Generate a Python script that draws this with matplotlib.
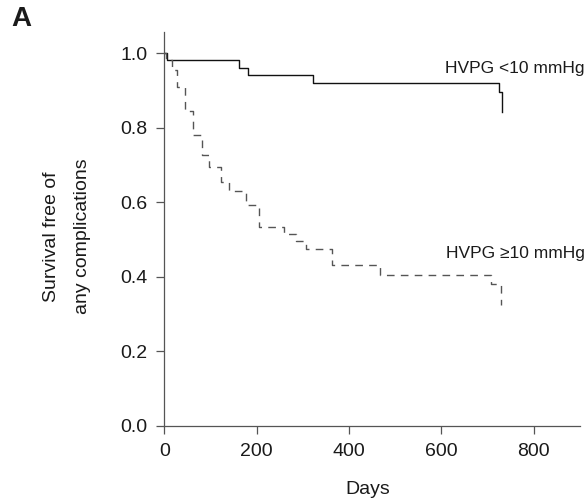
import matplotlib
matplotlib.use("Agg")
import matplotlib.pyplot as plt

# Kaplan-Meier steps (days, survival after step)
low_days = [0, 5, 161, 182, 321, 724, 731]
low_surv = [1.0, 0.982, 0.961, 0.942, 0.920, 0.897, 0.843]

high_days = [0, 4, 17, 27, 45, 62, 81, 96, 123, 140, 177, 205, 260, 284, 306,
             363, 466, 708, 729]
high_surv = [1.0, 0.982, 0.955, 0.909, 0.845, 0.780, 0.727, 0.694, 0.655, 0.630,
             0.593, 0.533, 0.514, 0.497, 0.476, 0.433, 0.404, 0.380, 0.325]

x_ticks = [0, 200, 400, 600, 800]
y_ticks = [0.0, 0.2, 0.4, 0.6, 0.8, 1.0]

plt.rcParams['font.family'] = ['Liberation Sans', 'DejaVu Sans']
plt.rcParams['lines.scale_dashes'] = False

axis_col = '#555555'
text_col = '#1a1a1a'

fig = plt.figure(figsize=(5.88, 5.0), dpi=100)
ax = fig.add_axes([0.2795, 0.148, 0.707, 0.789])

ax.step(low_days, low_surv, where='post', color='#111111', lw=1.0)
ax.step(high_days, high_surv, where='post', color='#555555', lw=1.0,
        dashes=(5.5, 4.5))

ax.set_xlim(0, 900)
ax.set_ylim(0, 1.058)
ax.set_xticks(x_ticks)
ax.set_yticks(y_ticks)
ax.set_yticklabels(["%.1f" % v for v in y_ticks])

for side in ['top', 'right']:
    ax.spines[side].set_visible(False)
for side in ['left', 'bottom']:
    ax.spines[side].set_color(axis_col)
    ax.spines[side].set_linewidth(0.9)
ax.tick_params(direction='out', length=6, width=0.9, color=axis_col,
               labelsize=14, labelcolor=text_col, pad=6)

ax.set_xlabel("Days", fontsize=14, color=text_col)
ax.xaxis.set_label_coords(0.49, -0.14)
ax.set_ylabel("Survival free of\nany complications", fontsize=14,
              color=text_col, linespacing=2.1)
ax.yaxis.set_label_coords(-0.176, 0.48)

ax.text(607, 0.958, "HVPG <10 mmHg", fontsize=12.5, color=text_col,
        va='center', ha='left')
ax.text(610, 0.462, "HVPG \u226510 mmHg", fontsize=12.5, color=text_col,
        va='center', ha='left')

fig.text(0.02, 0.963, "A", fontsize=20, fontweight='bold', color=text_col,
         va='center', ha='left')

fig.savefig("out.png", dpi=100)
